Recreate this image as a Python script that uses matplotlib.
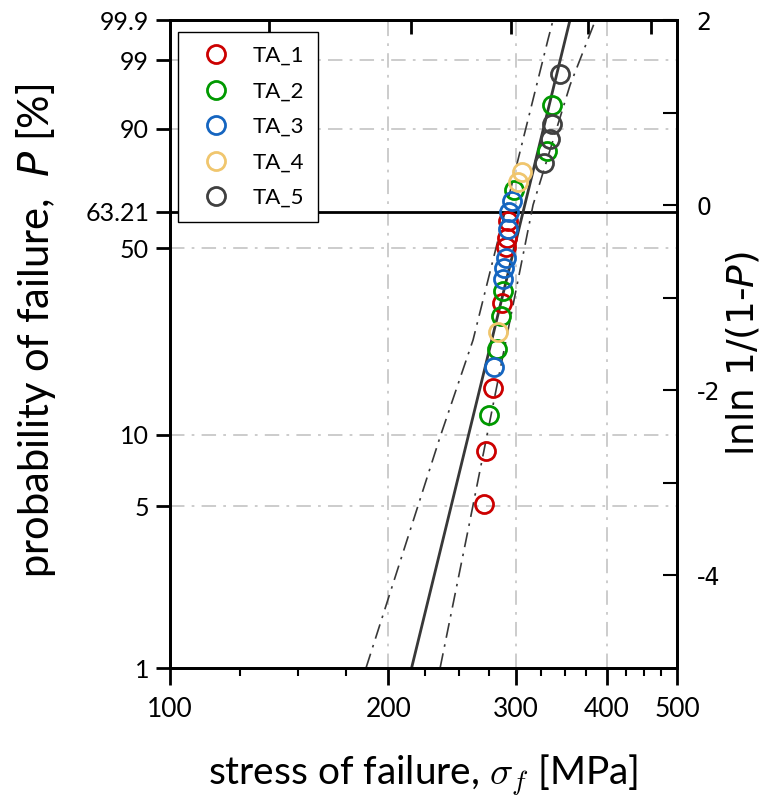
import numpy as np
import matplotlib.pyplot as plt
from matplotlib.ticker import FixedLocator, NullFormatter, NullLocator

plt.rcParams['font.family'] = ['Lato', 'DejaVu Sans']
plt.rcParams['axes.unicode_minus'] = False

# stress of failure [MPa] and probability of failure [%] for each sample set
ta1_stress = [270.6, 272.4, 278.5, 286.5, 290.2, 291.1, 292.1]
ta1_prob = [5.14, 8.60, 15.57, 32.82, 50.27, 53.46, 59.65]
ta2_stress = [275.0, 282.0, 285.6, 287.4, 297.7, 330.6, 335.9]
ta2_prob = [12.11, 22.17, 29.47, 36.17, 71.02, 84.31, 94.72]
ta3_stress = [279.3, 287.4, 288.4, 290.2, 292.1, 293.0, 295.8]
ta3_prob = [18.87, 39.74, 43.19, 46.50, 56.70, 62.96, 67.03]
ta4_stress = [282.9, 301.5, 305.3]
ta4_prob = [25.72, 73.90, 77.35]
ta5_stress = [327.5, 333.8, 335.9, 344.6]
ta5_prob = [80.33, 87.62, 91.20, 98.20]

series_names = ['TA_1', 'TA_2', 'TA_3', 'TA_4', 'TA_5']
series_colors = ['#cc0000', '#009900', '#1565c0', '#f0c66e', '#404040']

# Weibull fit line and confidence bounds
fit_stress = [215.3, 356.0]
fit_prob = [1.0, 99.9]
lower_stress = [186.3, 235.7, 261.7, 331.9, 337.4]
lower_prob = [1.0, 9.81, 24.0, 99.65, 99.9]
upper_stress = [235.7, 257.6, 316.6, 356.1, 386.0]
upper_prob = [1.0, 3.96, 65.70, 97.23, 99.9]

p_ticks = [1, 5, 10, 50, 63.21, 90, 99, 99.9]
p_ticklabels = ['1', '5', '10', '50', '63.21', '90', '99', '99.9']
p_grid = [5, 10, 50, 90, 99]
x_ticks = [100, 200, 300, 400, 500]
x_minor = [125, 150, 175, 225, 250, 275, 325, 350, 375, 425, 450, 475]
x_grid = [200, 300, 400]
top_ticks = [137, 215, 295, 377, 460]
right_ticks = [-4, -2, 0, 2]
right_minor = [-3, -1, 1]


def lnln(p):
    p = np.asarray(p, dtype=float) / 100.0
    return np.log(-np.log(1.0 - p))


fig = plt.figure(figsize=(7.78, 8.05), dpi=100)
ax = fig.add_axes([170 / 778, (805 - 668) / 805, (677 - 170) / 778, (668 - 20) / 805])
ax.set_xscale('log')
ax.set_xlim(100, 500)
ax.set_ylim(lnln(1), lnln(99.9))

grid_kw = dict(color='#c8c8c8', lw=1.3, ls=(0, (8, 4, 1.5, 4)), zorder=0)
for x in x_grid:
    ax.axvline(x, **grid_kw)
for p in p_grid:
    ax.axhline(lnln(p), **grid_kw)
ax.axhline(0, color='black', lw=2, zorder=1)

ax.plot(fit_stress, lnln(fit_prob), color='#383838', lw=2, zorder=2)
band_kw = dict(color='#383838', lw=1.2, ls=(0, (9, 4, 1.5, 4)), zorder=2)
ax.plot(lower_stress, lnln(lower_prob), **band_kw)
ax.plot(upper_stress, lnln(upper_prob), **band_kw)

all_stress = [ta1_stress, ta2_stress, ta3_stress, ta4_stress, ta5_stress]
all_prob = [ta1_prob, ta2_prob, ta3_prob, ta4_prob, ta5_prob]
for s, p, name, c in zip(all_stress, all_prob, series_names, series_colors):
    ax.plot(s, lnln(p), 'o', ms=13, mfc='none', mec=c, mew=2, label=name, zorder=3)

# bottom axis
ax.xaxis.set_major_locator(FixedLocator(x_ticks))
ax.set_xticklabels([str(v) for v in x_ticks])
ax.xaxis.set_minor_locator(FixedLocator(x_minor))
ax.xaxis.set_minor_formatter(NullFormatter())
ax.tick_params(axis='x', which='major', direction='out', length=12, width=2, labelsize=19, pad=9)
ax.tick_params(axis='x', which='minor', direction='out', length=6, width=1.5)

# left axis
ax.set_yticks(lnln(p_ticks))
ax.set_yticklabels(p_ticklabels)
ax.tick_params(axis='y', which='major', direction='out', length=10, width=2, labelsize=18, pad=5)

# top ticks
secax = ax.secondary_xaxis('top')
secax.xaxis.set_major_locator(FixedLocator(top_ticks))
secax.xaxis.set_minor_locator(NullLocator())
secax.set_xticklabels([])
secax.tick_params(direction='in', length=10, width=2)

# right axis
ax2 = ax.twinx()
ax2.set_ylim(-5, 2)
ax2.set_yticks(right_ticks)
ax2.set_yticklabels([str(v) for v in right_ticks], family='DejaVu Sans')
ax2.yaxis.set_minor_locator(FixedLocator(right_minor))
ax2.tick_params(axis='y', which='both', direction='in', length=10, width=1.5, labelsize=17, pad=14)

for a in (ax, ax2):
    for sp in a.spines.values():
        sp.set_linewidth(2)

ax.set_xlabel(r'stress of failure, $\sigma_f$ [MPa]', fontsize=28, labelpad=22,
              math_fontfamily='cm')
ax.set_ylabel(r'probability of failure,  $P$ [%]', fontsize=30,
              math_fontfamily='dejavusans')
ax.yaxis.set_label_coords(-0.221, 0.52)
ax2.set_ylabel(r'lnln 1/(1-$P$)', fontsize=27, family='DejaVu Sans',
               math_fontfamily='dejavusans')
ax2.yaxis.set_label_coords(1.093, 0.485)

leg = ax.legend(loc='upper left', bbox_to_anchor=(0.016, 0.9815), borderaxespad=0,
                fontsize=16, frameon=True, fancybox=False, edgecolor='black',
                framealpha=1, labelspacing=0.7, handletextpad=0.55, borderpad=0.62,
                handlelength=2.2)
leg.get_frame().set_linewidth(1)

plt.savefig('out.png', dpi=100)
